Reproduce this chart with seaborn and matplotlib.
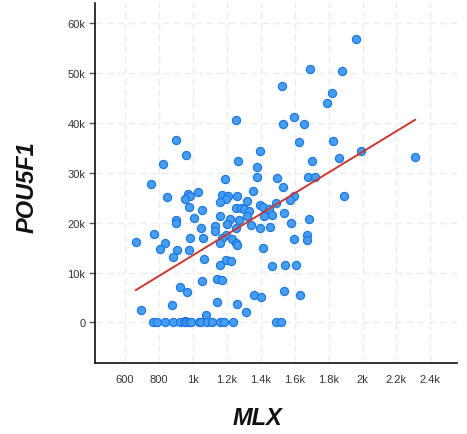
import matplotlib
matplotlib.use("Agg")
import matplotlib.pyplot as plt
import numpy as np
import pandas as pd
import seaborn as sns
from matplotlib.ticker import FuncFormatter, MultipleLocator

# MLX expression (x) and POU5F1 expression (y)
mlx = [
    1964, 1688, 1878, 1526, 1821, 1788, 1598, 1254, 1531, 1654,
    898, 1623, 1827, 1398, 1992, 957, 2311, 1861, 825, 1266,
    1701, 1380, 1376, 1494, 1677, 1719, 1192, 751, 1534, 1353,
    1031, 972, 848, 982, 1169, 1594, 1892, 1205, 1259, 951,
    1197, 1573, 1159, 1319, 1488, 1394, 1412, 1447, 975, 1257,
    1285, 1300, 1329, 1052, 1537, 1421, 1467, 1317, 1160, 1006,
    1221, 1270, 1684, 898, 898, 1576, 1204, 1345, 1131, 1456,
    1398, 1254, 1049, 1129, 768, 1198, 1673, 983, 1057, 1174,
    1228, 1596, 1675, 663, 833, 1159, 1257, 1262, 1413, 806,
    905, 977, 881, 1066, 1197, 1222, 1157, 1467, 1541, 1605,
    1055, 1142, 1169, 925, 966, 1537, 1363, 1399, 1631, 1144,
    1259, 875, 696, 1313, 1076, 953,
    766, 786, 837, 884, 925, 947, 959, 978, 990, 1038,
    1047, 1085, 1112, 1159, 1186, 1237, 1488, 1521,
]
pou5f1 = [
    56900, 50800, 50500, 47400, 46100, 44100, 41300, 40600, 39800, 39800,
    36600, 36300, 36500, 34400, 34500, 33700, 33300, 33000, 31800, 32300,
    32300, 31100, 29200, 29000, 29200, 29200, 28700, 27800, 27200, 26400,
    26200, 25800, 25100, 25400, 25600, 25400, 25300, 25300, 25300, 24800,
    24800, 24600, 24100, 24300, 24000, 23500, 23100, 22800, 23200, 23000,
    22900, 22800, 22400, 22500, 22000, 21300, 21600, 21300, 21300, 21000,
    20800, 20600, 20700, 20500, 20000, 20000, 19700, 19500, 19300, 19100,
    18900, 18900, 18900, 18400, 17700, 17500, 17500, 17000, 16900, 17000,
    16800, 16700, 16500, 16200, 15900, 15900, 16000, 15500, 15000, 14800,
    14500, 14600, 13200, 12800, 12500, 12300, 11600, 11400, 11600, 11600,
    8400, 8700, 8500, 7200, 6200, 6300, 5600, 5200, 5500, 4100,
    3700, 3500, 2600, 2100, 1500, 300,
    0, 0, 0, 0, 0, 0, 0, 0, 0, 0,
    0, 0, 0, 0, 0, 0, 0, 0,
]


def kfmt(value, _pos):
    if value == 0:
        return "0"
    if abs(value) >= 1000:
        return f"{value / 1000:g}k"
    return f"{value:g}"


df = pd.DataFrame({"MLX": mlx, "POU5F1": pou5f1})

sns.set_theme(style="white")
plt.rcParams["font.family"] = ["Liberation Sans", "DejaVu Sans"]

fig = plt.figure(figsize=(4.67, 4.35), dpi=100)
ax = fig.add_axes([0.2034, 0.1632, 0.7752, 0.8276])

sns.regplot(
    data=df,
    x="MLX",
    y="POU5F1",
    ci=None,
    truncate=True,
    scatter_kws={"s": 34, "color": "#459df4", "edgecolor": "#1f78de", "linewidths": 0.9, "alpha": 1, "zorder": 3},
    line_kws={"color": "#c8382e", "linewidth": 1.4, "zorder": 4},
    ax=ax,
)

ax.set_xlim(423, 2557)
ax.set_ylim(-8130, 64100)
ax.xaxis.set_major_locator(MultipleLocator(200))
ax.yaxis.set_major_locator(MultipleLocator(10000))
ax.xaxis.set_major_formatter(FuncFormatter(kfmt))
ax.yaxis.set_major_formatter(FuncFormatter(kfmt))

ax.grid(True, color="#ececec", linestyle=(0, (5, 3)), linewidth=1.0)
ax.set_axisbelow(True)
for side in ["top", "right"]:
    ax.spines[side].set_visible(False)
for side in ["left", "bottom"]:
    ax.spines[side].set_color("#111111")
    ax.spines[side].set_linewidth(1.2)

ax.tick_params(axis="x", length=0, pad=8, labelsize=8, labelcolor="#333333")
ax.tick_params(axis="y", length=4, width=1, color="#555555", pad=3, labelsize=8, labelcolor="#333333", left=True)

ax.set_xlabel("MLX", fontsize=17, fontweight="bold", fontstyle="italic", color="#111111", va="center")
ax.set_ylabel("POU5F1", fontsize=17, fontweight="bold", fontstyle="italic", color="#111111", va="center")
ax.xaxis.set_label_coords(0.45, -0.15)
ax.yaxis.set_label_coords(-0.188, 0.49)

fig.savefig("out.png", dpi=100)
plt.close(fig)
